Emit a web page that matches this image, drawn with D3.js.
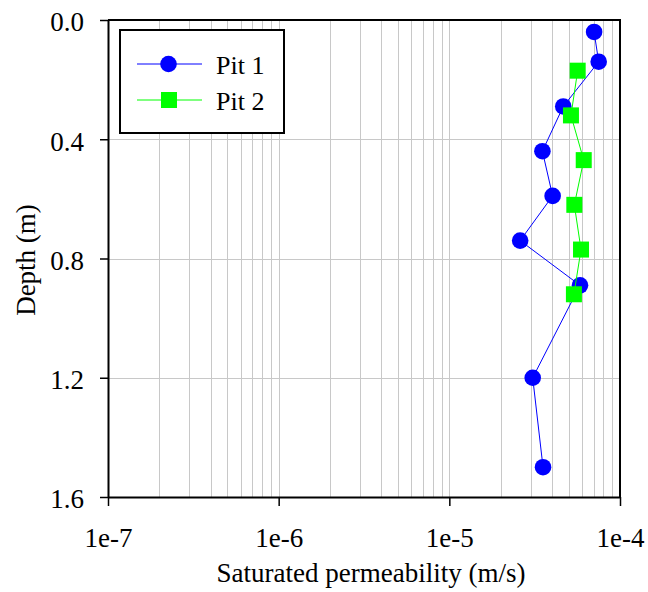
<!DOCTYPE html>
<html>
<head>
<meta charset="utf-8">
<script src="https://cdn.jsdelivr.net/npm/d3@7"></script>
<style>
  html, body { margin: 0; padding: 0; background: #fff; }
  svg { display: block; }
  text { font-family: "Liberation Serif", "Times New Roman", serif; fill: #000; }
</style>
</head>
<body>
<svg id="chart" width="648" height="592"></svg>
<script>
// Saturated permeability (m/s) against depth (m) for two test pits
const pit1Depth = [0.04, 0.14, 0.29, 0.44, 0.59, 0.74, 0.89, 1.2, 1.5];
const pit1K     = [7.05e-5, 7.5e-5, 4.65e-5, 3.51e-5, 4.03e-5, 2.6e-5, 5.83e-5, 3.08e-5, 3.54e-5];
const pit2Depth = [0.17, 0.32, 0.47, 0.62, 0.77, 0.92];
const pit2K     = [5.65e-5, 5.16e-5, 6.13e-5, 5.4e-5, 5.91e-5, 5.37e-5];
const xTicks = [1e-7, 1e-6, 1e-5, 1e-4];
const xTickLabels = ["1e-7", "1e-6", "1e-5", "1e-4"];
const yTicks = [0.0, 0.4, 0.8, 1.2, 1.6];
const seriesNames = ["Pit 1", "Pit 2"];

const svg = d3.select("#chart");
const plotL = 108, plotR = 620, plotT = 20, plotB = 497;

const x = d3.scaleLog().domain([1e-7, 1e-4]).range([plotL, plotR]);
const y = d3.scaleLinear().domain([0, 1.6]).range([plotT, plotB]);

// grid: every 1..9 step in each decade, plus depth gridlines
const gridX = [];
for (let e = -7; e < -4; e++) for (let m = 1; m <= 9; m++) gridX.push(m * Math.pow(10, e));
const grid = svg.append("g").attr("stroke", "#c8c8c8").attr("stroke-width", 1);
grid.selectAll("line.gx").data(gridX.filter(v => v > 1e-7)).join("line")
  .attr("x1", d => Math.round(x(d)) + 0.5).attr("x2", d => Math.round(x(d)) + 0.5)
  .attr("y1", plotT).attr("y2", plotB);
grid.selectAll("line.gy").data(yTicks.slice(1, -1)).join("line")
  .attr("x1", plotL).attr("x2", plotR)
  .attr("y1", d => Math.round(y(d)) + 0.5).attr("y2", d => Math.round(y(d)) + 0.5);

// frame (top and right)
svg.append("path")
  .attr("d", `M${plotL},${plotT}H${plotR}V${plotB}`)
  .attr("fill", "none").attr("stroke", "#000").attr("stroke-width", 2);

// axes
const yAxis = d3.axisLeft(y).tickValues(yTicks).tickFormat(d3.format(".1f"))
  .tickSizeInner(8).tickSizeOuter(0).tickPadding(16);
const gy = svg.append("g").attr("transform", `translate(${plotL},0)`).call(yAxis);
gy.select(".domain").attr("stroke-width", 2);
gy.selectAll(".tick line").attr("stroke-width", 1.5);
gy.selectAll(".tick text").attr("font-size", 27).attr("dy", "0.4em")
  .style("font-family", "Liberation Serif");

const xAxis = d3.axisBottom(x).tickValues(xTicks)
  .tickFormat((d, i) => xTickLabels[i])
  .tickSizeInner(9).tickSizeOuter(0).tickPadding(22);
const gx = svg.append("g").attr("transform", `translate(0,${plotB})`).call(xAxis);
gx.select(".domain").attr("stroke-width", 2);
gx.selectAll(".tick line").attr("stroke-width", 1.5);
gx.selectAll(".tick text").attr("font-size", 27).style("font-family", "Liberation Serif");

// axis titles
svg.append("text").attr("x", 371).attr("y", 582).attr("text-anchor", "middle")
  .attr("font-size", 27).text("Saturated permeability (m/s)");
svg.append("text").attr("transform", "translate(35,260) rotate(-90)")
  .attr("text-anchor", "middle").attr("font-size", 27).text("Depth (m)");

// series
const line = d3.line().x(d => x(d[1])).y(d => y(d[0]));
const pit1 = pit1Depth.map((d, i) => [d, pit1K[i]]);
const pit2 = pit2Depth.map((d, i) => [d, pit2K[i]]);

svg.append("path").datum(pit1).attr("d", line)
  .attr("fill", "none").attr("stroke", "#0000ff").attr("stroke-width", 1);
svg.append("g").selectAll("circle").data(pit1).join("circle")
  .attr("cx", d => x(d[1])).attr("cy", d => y(d[0])).attr("r", 8.3)
  .attr("fill", "#0000ff");

svg.append("path").datum(pit2).attr("d", line)
  .attr("fill", "none").attr("stroke", "#00ff00").attr("stroke-width", 1);
svg.append("g").selectAll("rect").data(pit2).join("rect")
  .attr("x", d => x(d[1]) - 8).attr("y", d => y(d[0]) - 8)
  .attr("width", 16).attr("height", 16).attr("fill", "#00ff00");

// legend
const lg = svg.append("g");
lg.append("rect").attr("x", 120).attr("y", 30).attr("width", 164).attr("height", 103)
  .attr("fill", "#fff").attr("stroke", "#000").attr("stroke-width", 2);
const rows = [
  { name: seriesNames[0], color: "#0000ff", shape: "circle", cy: 64 },
  { name: seriesNames[1], color: "#00ff00", shape: "square", cy: 100 }
];
rows.forEach(r => {
  lg.append("line").attr("x1", 137).attr("x2", 202).attr("y1", r.cy).attr("y2", r.cy)
    .attr("stroke", r.color).attr("stroke-width", 1);
  if (r.shape === "circle") {
    lg.append("circle").attr("cx", 168.5).attr("cy", r.cy).attr("r", 8.3).attr("fill", r.color);
  } else {
    lg.append("rect").attr("x", 161).attr("y", r.cy - 8).attr("width", 16).attr("height", 16)
      .attr("fill", r.color);
  }
  lg.append("text").attr("x", 216).attr("y", r.cy + 9.5).attr("font-size", 26).text(r.name);
});
</script>
</body>
</html>
